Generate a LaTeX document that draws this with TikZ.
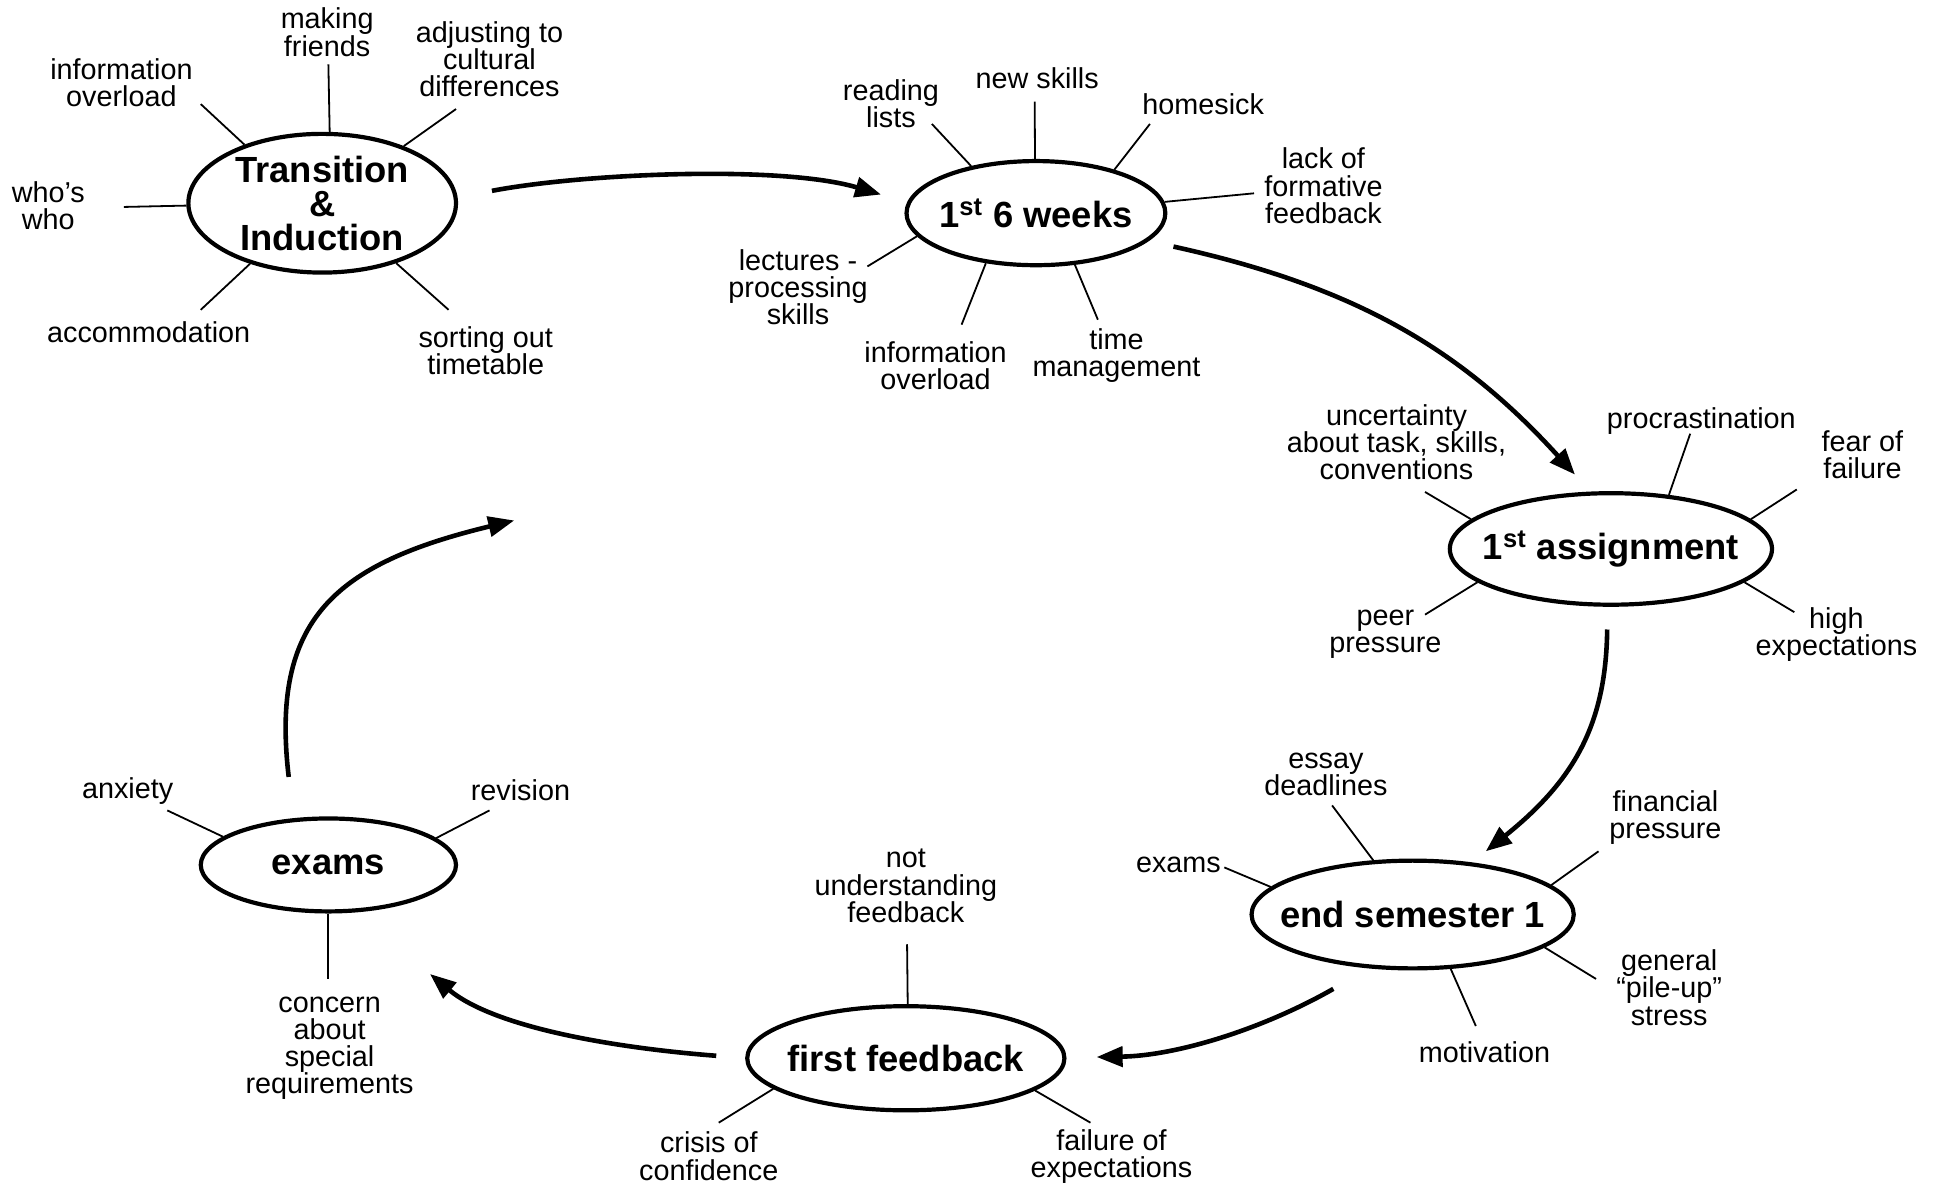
\documentclass[tikz,border=0pt]{standalone}
\usepackage{fontspec}
\usepackage{graphicx}
\setmainfont{Liberation Sans}
\usetikzlibrary{arrows.meta,shapes.geometric}
\newcommand\lblfont{\fontsize{14.4pt}{13.6pt}\selectfont}
\newcommand\hubfont{\fontsize{18.2pt}{17pt}\selectfont\bfseries}
\begin{document}
\begin{tikzpicture}[x=0.62pt,y=-0.62pt,
  hub/.style={ellipse,draw,line width=2.1pt,inner sep=0pt,align=center,font=\hubfont},
  lbl/.style={align=center,inner sep=0pt,font=\lblfont},
  spoke/.style={line width=0.9pt},
  flow/.style={line width=2.3pt,-{Triangle[length=13pt,width=10pt]}}]
\useasboundingbox (0,0) rectangle (1568,957);
\begin{scope}
\clip (0,0) rectangle (1546,957);
% hubs
\node[hub,minimum width=133.9pt,minimum height=69.4pt] (T) at (260,164) {Transition\\\&\\Induction};
\node[hub,minimum width=129.5pt,minimum height=52.1pt] (S) at (836,172) {\makebox[0pt][c]{1\textsuperscript{st} 6 weeks}};
\node[hub,minimum width=161.2pt,minimum height=55.8pt] (A) at (1300,443) {\makebox[0pt][c]{1\textsuperscript{st} assignment}};
\node[hub,minimum width=161.2pt,minimum height=53.9pt] (E) at (1140,738) {\makebox[0pt][c]{end semester 1}};
\node[hub,minimum width=158.7pt,minimum height=52.1pt] (F) at (731,854) {\makebox[0pt][c]{first feedback}};
\node[hub,minimum width=127.7pt,minimum height=46.5pt] (X) at (265,698) {\makebox[0pt][c]{exams}};
% labels
\node[lbl] (lt1) at (98,67) {information\\overload};
\node[lbl] (lt2) at (264,26) {making\\friends};
\node[lbl] (lt3) at (395,48) {adjusting to\\cultural\\differences};
\node[lbl] (lt4) at (39,166) {who’s\\who};
\node[lbl] (lt5) at (120,268) {accommodation};
\node[lbl] (lt6) at (392,283) {sorting out\\timetable};
\node[lbl] (ls1) at (719,84) {reading\\lists};
\node[lbl] (ls2) at (837,63) {new skills};
\node[lbl] (ls3) at (971,84) {homesick};
\node[lbl] (ls4) at (1068,150) {lack of\\formative\\feedback};
\node[lbl] (ls5) at (644,232) {lectures -\\processing\\skills};
\node[lbl] (ls6) at (755,295) {information\\overload};
\node[lbl] (ls7) at (901,287) {time\\management};
\node[lbl] (la1) at (1127,357) {uncertainty\\about task, skills,\\conventions};
\node[lbl] (la2) at (1373,340) {procrastination};
\node[lbl] (la3) at (1503,367) {fear of\\failure};
\node[lbl] (la4) at (1118,512) {peer\\pressure};
\node[lbl] (la5) at (1482,512) {high\\expectations};
\node[lbl] (le1) at (1070,625) {essay\\deadlines};
\node[lbl] (le2) at (951,698) {exams};
\node[lbl] (le3) at (1344,660) {financial\\pressure};
\node[lbl] (le4) at (1347,797) {general\\“pile-up”\\stress};
\node[lbl] (le5) at (1198,849) {motivation};
\node[lbl] (lf1) at (731,715) {not\\understanding\\feedback};
\node[lbl] (lf2) at (572,933) {crisis of\\confidence};
\node[lbl] (lf3) at (897,933) {failure of\\expectations};
\node[lbl] (lx1) at (103,638) {anxiety};
\node[lbl] (lx2) at (420,638) {revision};
\node[lbl] (lx3) at (266,846) {concern\\about\\special\\requirements};
% spoke outer ends
\coordinate (t1) at (162,84);
\coordinate (t2) at (265,52);
\coordinate (t3) at (368,88);
\coordinate (t4) at (100,167);
\coordinate (t5) at (162,250);
\coordinate (t6) at (362,250);
\coordinate (s1) at (752,100);
\coordinate (s2) at (835,82);
\coordinate (s3) at (928,100);
\coordinate (s4) at (1012,156);
\coordinate (s5) at (700,215);
\coordinate (s6) at (776,262);
\coordinate (s7) at (886,258);
\coordinate (a1) at (1150,397);
\coordinate (a2) at (1364,350);
\coordinate (a3) at (1450,395);
\coordinate (a4) at (1150,496);
\coordinate (a5) at (1448,494);
\coordinate (e1) at (1075,650);
\coordinate (e2) at (988,700);
\coordinate (e3) at (1290,687);
\coordinate (e4) at (1288,790);
\coordinate (e5) at (1191,828);
\coordinate (f1) at (732,762);
\coordinate (f2) at (580,906);
\coordinate (f3) at (880,906);
\coordinate (x1) at (135,654);
\coordinate (x2) at (395,654);
\coordinate (x3) at (265,790);
% spokes
\draw[spoke] (T.143.4) -- (t1);
\draw[spoke] (T.84.9) -- (t2);
\draw[spoke] (T.35.2) -- (t3);
\draw[spoke] (T.181.6) -- (t4);
\draw[spoke] (T.220.6) -- (t5);
\draw[spoke] (T.321.1) -- (t6);
\draw[spoke] (S.144.6) -- (s1);
\draw[spoke] (S.91.4) -- (s2);
\draw[spoke] (S.29.8) -- (s3);
\draw[spoke] (S.5.5) -- (s4);
\draw[spoke] (S.191.5) -- (s5);
\draw[spoke] (S.225) -- (s6);
\draw[spoke] (S.307.8) -- (s7);
\draw[spoke] (A.168) -- (a1);
\draw[spoke] (A.43.6) -- (a2);
\draw[spoke] (A.12) -- (a3);
\draw[spoke] (A.194.2) -- (a4);
\draw[spoke] (A.346) -- (a5);
\draw[spoke] (E.126.7) -- (e1);
\draw[spoke] (E.169.7) -- (e2);
\draw[spoke] (E.12.9) -- (e3);
\draw[spoke] (E.346) -- (e4);
\draw[spoke] (E.305.4) -- (e5);
\draw[spoke] (F.88.6) -- (f1);
\draw[spoke] (F.193.3) -- (f2);
\draw[spoke] (F.346.9) -- (f3);
\draw[spoke] (X.165.5) -- (x1);
\draw[spoke] (X.14.8) -- (x2);
\draw[spoke] (X.270) -- (x3);
% flow arrows
\coordinate (p1s) at (397,154); \coordinate (p1e) at (711,157);
\coordinate (p2s) at (947,199); \coordinate (p2e) at (1271,383);
\coordinate (p3s) at (1297,508); \coordinate (p3e) at (1199,687);
\coordinate (p4s) at (1076,798); \coordinate (p4e) at (885,853);
\coordinate (p5s) at (578,852); \coordinate (p5e) at (347,786);
\coordinate (p6s) at (233,627); \coordinate (p6e) at (415,420);
\draw[flow] (p1s) .. controls (470,140) and (630,133) .. (p1e);
\draw[flow] (p2s) .. controls (1097,232) and (1181,284) .. (p2e);
\draw[flow] (p3s) .. controls (1296,585) and (1270,630) .. (p3e);
\draw[flow] (p4s) .. controls (1020,830) and (950,852) .. (p4e);
\draw[flow] (p5s) .. controls (500,846) and (400,830) .. (p5e);
\draw[flow] (p6s) .. controls (218,500) and (270,455) .. (p6e);
\end{scope}
\end{tikzpicture}
\end{document}
